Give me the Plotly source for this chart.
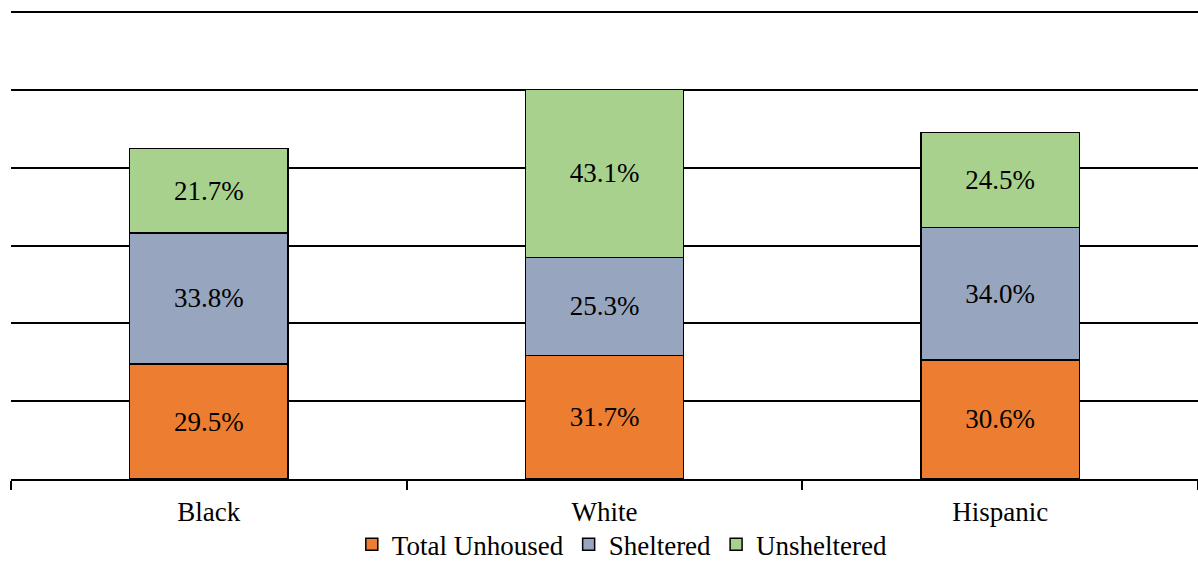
import plotly.graph_objects as go

categories = ["Black", "White", "Hispanic"]
total_unhoused = [29.5, 31.7, 30.6]
sheltered = [33.8, 25.3, 34.0]
unsheltered = [21.7, 43.1, 24.5]

series = [
    ("Total Unhoused", total_unhoused, "#ED7D31"),
    ("Sheltered", sheltered, "#97A6BE"),
    ("Unsheltered", unsheltered, "#A9D18E"),
]

font_family = "Liberation Serif, Times New Roman, serif"
fs = 27
fig = go.Figure()
for name, vals, color in series:
    fig.add_trace(go.Bar(
        x=categories, y=vals, name=name,
        marker=dict(color=color, line=dict(color="black", width=1.5)),
        texttemplate="%{y:.1f}%", textposition="inside",
        insidetextanchor="middle",
        textfont=dict(family=font_family, size=fs, color="black"),
    ))

fig.update_layout(
    barmode="stack", bargap=0.6,
    width=1198, height=561,
    margin=dict(l=11, r=0, t=11, b=82, autoexpand=False),
    plot_bgcolor="white", paper_bgcolor="white",
    font=dict(family=font_family, size=fs, color="black"),
    showlegend=True,
    legend=dict(orientation="h", x=0.515, xanchor="center", y=-0.193, yanchor="bottom",
                font=dict(family=font_family, size=fs, color="black"),
                itemwidth=30, traceorder="normal", borderwidth=0,
                bgcolor="rgba(0,0,0,0)"),
    uniformtext=dict(minsize=fs, mode="show"),
)
fig.update_xaxes(showline=True, linecolor="black", linewidth=1.5,
                 ticks="outside", tickson="boundaries", ticklen=9, tickwidth=1.5, tickcolor="black",
                 ticklabelstandoff=8,
                 tickfont=dict(family=font_family, size=fs, color="black"))
fig.update_yaxes(range=[0, 120.3], tickvals=[20, 40, 60, 80, 100, 120], showgrid=True,
                 gridcolor="black", gridwidth=1.5,
                 showticklabels=False, zeroline=False, showline=False)

fig.write_html("out.html", config={"displayModeBar": False},
               post_script="document.body.style.margin='0';document.body.style.overflow='hidden';")
